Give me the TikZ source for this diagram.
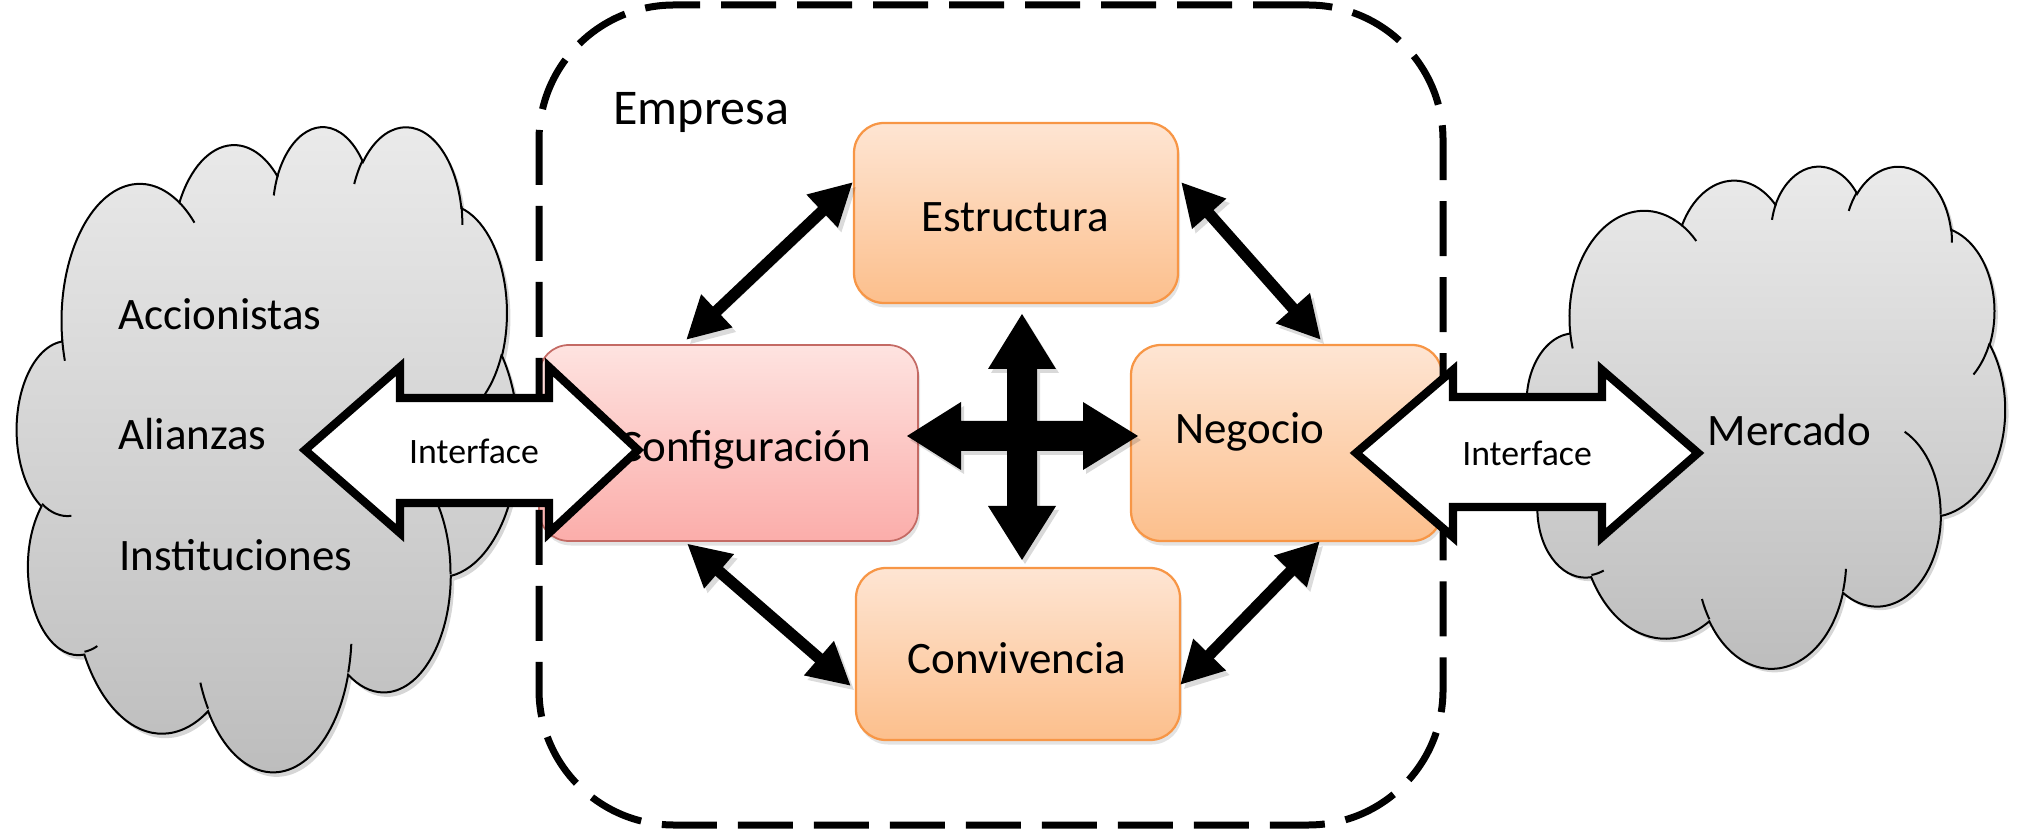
\documentclass[tikz,border=0pt]{standalone}
\usepackage{fontspec}
\setmainfont{Carlito}
\usetikzlibrary{arrows.meta,shadows,calc}
\definecolor{orTop}{HTML}{FEE5D3}
\definecolor{orBot}{HTML}{FCBF8C}
\definecolor{orLine}{HTML}{F79646}
\definecolor{rdTop}{HTML}{FEE3E0}
\definecolor{rdBot}{HTML}{FBADAA}
\definecolor{rdLine}{HTML}{C46A64}
\definecolor{clTop}{HTML}{EBEBEB}
\definecolor{clBot}{HTML}{BCBCBC}
% OOXML arcTo (visual angles) -> TikZ parametric arc
\newcommand{\ooarc}[4]{arc[x radius=#1, y radius=#2, start angle={atan2((#1)*sin(#3),(#2)*cos(#3))}, delta angle={mod(atan2((#1)*sin((#3)+(#4)),(#2)*cos((#3)+(#4)))-atan2((#1)*sin(#3),(#2)*cos(#3))+720,360)}]}
\newcommand{\cloudpath}{(39.00,143.70)
 \ooarc{67.53}{91.90}{-190.4875}{123.7805}
 \ooarc{53.33}{72.67}{-144.1024}{89.9452}
 \ooarc{43.65}{59.45}{-145.8079}{99.7230}
 \ooarc{48.57}{65.95}{-130.9861}{117.2417}
 \ooarc{53.33}{72.73}{-78.7089}{109.0269}
 \ooarc{67.75}{92.20}{-46.2673}{130.2690}
 \ooarc{57.85}{78.67}{0.6250}{114.0333}
 \ooarc{67.52}{92.15}{22.4516}{115.1726}
 \ooarc{77.20}{105.43}{66.2426}{75.7110}
 \ooarc{43.60}{59.18}{-274.9421}{146.7356}
 \ooarc{43.45}{59.45}{-246.8285}{152.5189} -- cycle}
\newcommand{\cloudinner}{
 (46.93,261.77) \ooarc{43.45}{59.45}{86.7420}{26.4295}
 (69.28,348.99) \ooarc{43.60}{59.18}{73.6105}{11.4475}
 (164.78,390.90) \ooarc{67.52}{92.15}{137.6242}{14.0811}
 (288.27,347.51) \ooarc{67.52}{92.15}{6.4533}{15.9984}
 (341.29,229.54) \ooarc{57.85}{78.67}{-70.2924}{70.9174}
 (417.98,153.54) \ooarc{53.33}{72.73}{30.3180}{27.7515}
 (383.24,54.26) \ooarc{48.57}{65.95}{-13.7443}{14.8589}
 (290.78,39.52) \ooarc{48.57}{65.95}{-149.1815}{18.1954}
 (221.41,47.20) \ooarc{43.65}{59.45}{-163.4943}{17.6864}
 (140.00,51.92) \ooarc{67.53}{91.90}{-66.7070}{12.3194}
 (41.27,157.89) \ooarc{67.53}{91.90}{157.6544}{11.8582}}
\tikzset{
 cloudfill/.style={line width=0.8pt, draw=black, top color=clTop, bottom color=clBot},
 cloudshadow/.style={fill=black, opacity=0.16},
 obox/.style={rectangle, rounded corners=12pt, inner sep=0pt, outer sep=0pt, draw=orLine, line width=0.9pt, top color=orTop, bottom color=orBot, drop shadow={opacity=0.22, shadow xshift=0.8pt, shadow yshift=-1.8pt}},
 rbox/.style={obox, draw=rdLine, line width=0.7pt, top color=rdTop, bottom color=rdBot},
 txt/.style={inner sep=0pt, font=\fontsize{18}{22}\selectfont},
 itxt/.style={inner sep=0pt, font=\fontsize{14.3}{17}\selectfont},
 dbl/.style={line width=4.6pt, {Triangle[length=17pt,width=17pt]}-{Triangle[length=17pt,width=17pt]},
   preaction={draw=black, opacity=0.14, transform canvas={shift={(1.4pt,-1.8pt)}}}},
 iface/.style={draw=black, fill=white, line width=3.3pt, line join=miter, miter limit=10},
 empbox/.style={rectangle, draw=black, line width=2.8pt, dash pattern=on 22pt off 8.4pt, rounded corners=54pt, inner sep=0pt, outer sep=0pt}
}
\begin{document}
\begin{tikzpicture}[x=0.4pt,y=-0.4pt]
\useasboundingbox (0,0) rectangle (2025,838);
% left cloud
\begin{scope}[shift={(17,125)},x=0.46389pt,y=-0.59722pt]
 \fill[cloudshadow,shift={(3,3)}] \cloudpath;
 \path[cloudfill] \cloudpath;
 \draw[line width=0.8pt] \cloudinner;
\end{scope}
% right cloud
\begin{scope}[shift={(1527,165)},x=0.44259pt,y=-0.46481pt]
 \fill[cloudshadow,shift={(3,3)}] \cloudpath;
 \path[cloudfill] \cloudpath;
 \draw[line width=0.8pt] \cloudinner;
\end{scope}
\node[txt, anchor=base west] (acc) at (118,330) {Accionistas};
\node[txt, anchor=base west] (ali) at (118,450) {Alianzas};
\node[txt, anchor=base west] (ins) at (119,570) {Instituciones};
\node[txt, anchor=base west] (mer) at (1707,445) {Mercado};
% boxes
\node[obox, minimum width=129.6pt, minimum height=72pt] (estr) at (1016,213) {};
\node[rbox, minimum width=151.6pt, minimum height=78.4pt] (config) at (728.5,443) {};
\node[obox, minimum width=124.4pt, minimum height=78.4pt] (negocio) at (1286.5,443) {};
\node[obox, minimum width=129.6pt, minimum height=68.8pt] (conv) at (1018,654) {};
% empresa boundary
\node[empbox, minimum width=361.6pt, minimum height=328pt] (emp) at (991,415) {};
\node[txt, anchor=base west, font=\fontsize{20}{24}\selectfont] (empT) at (613,125) {Empresa};
% diagonal connectors
\draw[dbl] ([xshift=58.8pt,yshift=2pt]config.north west) -- ([xshift=-0.4pt,yshift=-23.6pt]estr.north west);
\draw[dbl] ([xshift=1.2pt,yshift=-23.6pt]estr.north east) -- ([xshift=76pt,yshift=2pt]negocio.north west);
\draw[dbl] ([xshift=59.2pt,yshift=-1pt]config.south west) -- ([xshift=-2pt,yshift=-47.2pt]conv.north west);
\draw[dbl] ([yshift=-46.8pt]conv.north east) -- ([xshift=75.6pt]negocio.south west);
% four-way arrow
\fill[black,opacity=0.15,shift={(3,4)}] (1022,314) -- (1056,369) -- (1037,369) -- (1037,421) -- (1083,421) -- (1083,402) -- (1138,436) -- (1083,470) -- (1083,451) -- (1037,451) -- (1037,506) -- (1056,506) -- (1022,560) -- (988,506) -- (1007,506) -- (1007,451) -- (961,451) -- (961,470) -- (907,436) -- (961,402) -- (961,421) -- (1007,421) -- (1007,369) -- (988,369) -- cycle;
\fill[black] (1022,314) -- (1056,369) -- (1037,369) -- (1037,421) -- (1083,421) -- (1083,402) -- (1138,436) -- (1083,470) -- (1083,451) -- (1037,451) -- (1037,506) -- (1056,506) -- (1022,560) -- (988,506) -- (1007,506) -- (1007,451) -- (961,451) -- (961,470) -- (907,436) -- (961,402) -- (961,421) -- (1007,421) -- (1007,369) -- (988,369) -- cycle;
% box labels
\node[txt, anchor=base] (estrT) at (1015,232) {Estructura};
\node[txt, anchor=base] (configT) at (745,461) {Configuración};
\node[txt, anchor=base] (negocioT) at (1250,443) {Negocio};
\node[txt, anchor=base] (convT) at (1017,673) {Convivencia};
% interface arrows
\draw[iface] (305,450) -- (400,367) -- (400,398) -- (549,398) -- (549,367) -- (638,450) -- (549,533) -- (549,503) -- (400,503) -- (400,533) -- cycle;
\node[itxt, anchor=base] (if1) at (474,463) {Interface};
\draw[iface] (1356,453) -- (1453,370) -- (1453,397) -- (1602,397) -- (1602,370) -- (1698,453) -- (1602,537) -- (1602,507) -- (1453,507) -- (1453,537) -- cycle;
\node[itxt, anchor=base] (if2) at (1527,465) {Interface};
\end{tikzpicture}
\end{document}
